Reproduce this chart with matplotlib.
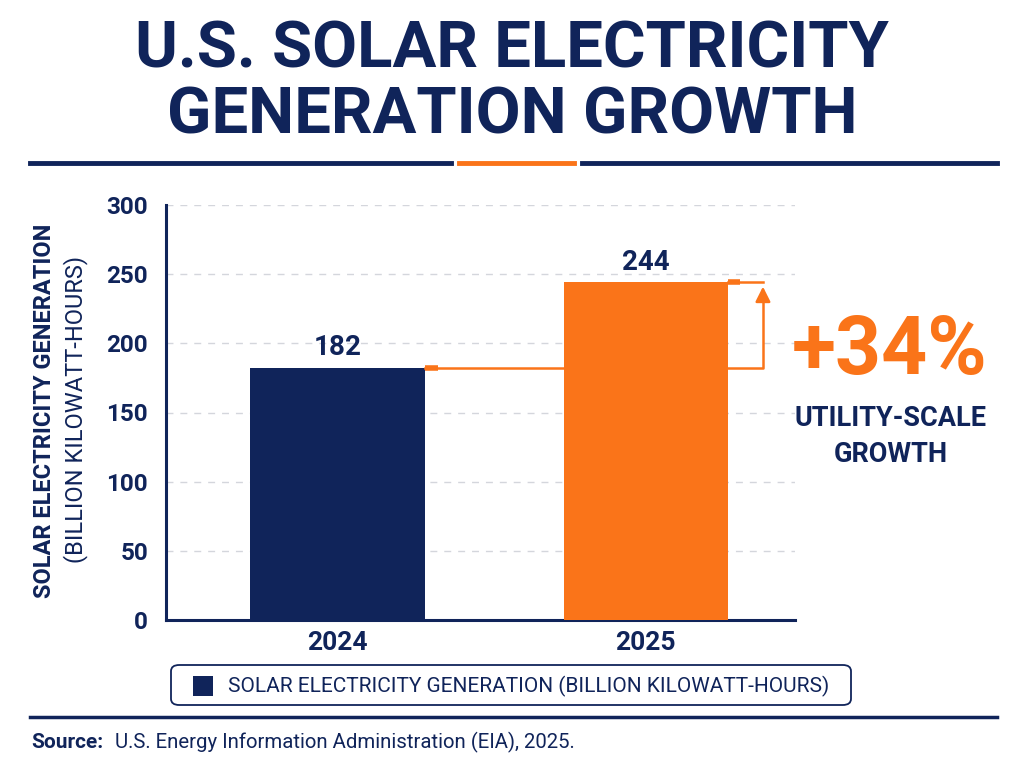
import matplotlib
matplotlib.use("Agg")
import matplotlib.pyplot as plt
from matplotlib.patches import FancyBboxPatch, Rectangle
from matplotlib.lines import Line2D

# Data
years = ["2024", "2025"]
generation = [182, 244]
growth_label = "+34%"
y_ticks = [0, 50, 100, 150, 200, 250, 300]

NAVY = "#10245a"
ORANGE = "#fa7419"
COND = ["Roboto", "DejaVu Sans"]
PLAIN = ["Roboto", "DejaVu Sans"]

fig = plt.figure(figsize=(10.24, 7.68), dpi=100)
fig.patch.set_facecolor("white")

def fy(px):
    return 1 - px / 768

def fx(px):
    return px / 1024

# Title
fig.text(0.5, fy(50), "U.S. SOLAR ELECTRICITY", ha="center", va="center",
         fontsize=47, fontweight="bold", color=NAVY, family=COND)
fig.text(0.5, fy(116), "GENERATION GROWTH", ha="center", va="center",
         fontsize=47, fontweight="bold", color=NAVY, family=COND)

# Separator under title
for x0, x1, c in [(30, 451, NAVY), (459, 574, ORANGE), (582, 997, NAVY)]:
    fig.add_artist(Line2D([fx(x0), fx(x1)], [fy(163), fy(163)], color=c, lw=3.5,
                          transform=fig.transFigure))

# Axes
ax = fig.add_axes([fx(166), fy(620), fx(795) - fx(166), fy(205) - fy(620)])
x = list(range(len(years)))
widths = [0.57, 0.53]
ax.bar(x, generation, width=widths, color=[NAVY, ORANGE], zorder=3)
ax.set_xlim(-0.557, 1.484)
ax.set_ylim(0, 300)
ax.set_yticks(y_ticks)
ax.set_xticks(x)
ax.set_xticklabels(years)
for lbl in ax.get_yticklabels():
    lbl.set_fontsize(17.5)
for lbl in ax.get_xticklabels():
    lbl.set_fontsize(19)
for lbl in ax.get_xticklabels() + ax.get_yticklabels():
    lbl.set_family(COND)
    lbl.set_fontweight("bold")
    lbl.set_color(NAVY)
ax.tick_params(axis="y", length=0, pad=13)
ax.tick_params(axis="x", length=0, pad=8)
for s in ["top", "right"]:
    ax.spines[s].set_visible(False)
for s in ["left", "bottom"]:
    ax.spines[s].set_color(NAVY)
    ax.spines[s].set_linewidth(2.2)
ax.yaxis.grid(True, color="#d4d6dc", linestyle=(0, (5, 5)), lw=1, zorder=0)
ax.set_axisbelow(True)

for xi, v in zip(x, generation):
    ax.text(xi, v + 5, str(v), ha="center", va="bottom", fontsize=20,
            fontweight="bold", color=NAVY, family=COND)

# Growth connector and arrow
left_edge = x[0] + widths[0] / 2
right_start = x[1] - widths[1] / 2
right_edge = x[1] + widths[1] / 2
arrow_x = right_edge + 0.115
v0, v1 = generation
ax.plot([left_edge, right_start], [v0, v0], color=ORANGE, lw=1.8, zorder=4)
ax.plot([left_edge, left_edge + 0.04], [v0, v0], color=ORANGE, lw=4, zorder=4,
        solid_capstyle="butt")
ax.plot([right_edge, arrow_x, arrow_x], [v0, v0, v1 - 10], color=ORANGE, lw=1.8, zorder=4)
ax.plot([right_edge, arrow_x], [v1, v1], color=ORANGE, lw=1.8, zorder=4)
ax.plot([right_edge, right_edge + 0.04], [v1, v1], color=ORANGE, lw=4, zorder=4,
        solid_capstyle="butt")
ax.annotate("", xy=(arrow_x, v1 - 1), xytext=(arrow_x, v1 - 12),
            arrowprops=dict(arrowstyle="-|>,head_width=0.45,head_length=0.9",
                            color=ORANGE, lw=1.8), zorder=5)

# Side callout
fig.text(fx(890), fy(352), growth_label, ha="center", va="center", fontsize=58,
         fontweight="bold", color=ORANGE, family=COND)
fig.text(fx(891), fy(418), "UTILITY-SCALE", ha="center", va="center", fontsize=19.5,
         fontweight="bold", color=NAVY, family=COND)
fig.text(fx(891), fy(455), "GROWTH", ha="center", va="center", fontsize=19.5,
         fontweight="bold", color=NAVY, family=COND)

# Y axis label (two lines)
fig.text(fx(45), fy(411), "SOLAR ELECTRICITY GENERATION", rotation=90,
         ha="center", va="center", fontsize=17, fontweight="bold", color=NAVY, family=COND)
fig.text(fx(76), fy(409), "(BILLION KILOWATT-HOURS)", rotation=90,
         ha="center", va="center", fontsize=17, color=NAVY, family=COND)

# Legend box
fig.add_artist(FancyBboxPatch((fx(171), fy(705)), fx(851) - fx(171), fy(665) - fy(705),
                              boxstyle="round,pad=0,rounding_size=0.008",
                              transform=fig.transFigure, fc="white", ec=NAVY, lw=1.3))
fig.add_artist(Rectangle((fx(193), fy(696)), fx(20), fy(676) - fy(696),
                         transform=fig.transFigure, fc=NAVY, ec="none"))
fig.text(fx(228), fy(686), "SOLAR ELECTRICITY GENERATION (BILLION KILOWATT-HOURS)",
         ha="left", va="center", fontsize=15, color=NAVY, family=COND)

# Bottom rule and source
fig.add_artist(Line2D([fx(30), fx(997)], [fy(717), fy(717)], color=NAVY, lw=2.5,
                      transform=fig.transFigure))
fig.text(fx(31), fy(742), "Source:", ha="left", va="center", fontsize=15,
         fontweight="bold", color=NAVY, family=PLAIN)
fig.text(fx(115), fy(742), "U.S. Energy Information Administration (EIA), 2025.",
         ha="left", va="center", fontsize=14.7, color=NAVY, family=PLAIN)

fig.savefig("out.png", dpi=100, facecolor="white")
